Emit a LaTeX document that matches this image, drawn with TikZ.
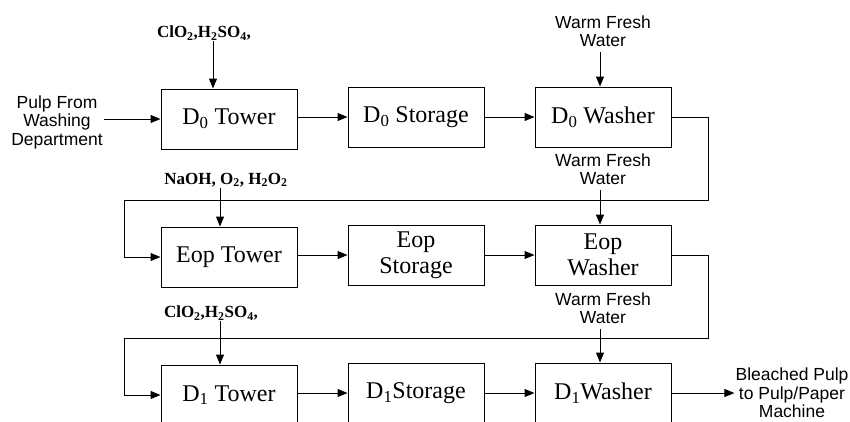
\documentclass[tikz,border=0pt]{standalone}
\usepackage{fontspec}
\setmainfont{Liberation Serif}
\newfontfamily\arialfont{Liberation Sans}
\usetikzlibrary{arrows.meta}

\begin{document}
\begin{tikzpicture}[x=1pt, y=-1pt,
    unit/.style={draw, line width=1pt, minimum width=136pt, minimum height=60pt,
        inner sep=0pt, align=center, font=\fontsize{24}{26}\selectfont},
    water/.style={align=center, inner sep=1pt, font=\arialfont\fontsize{17.5}{18.5}\selectfont},
    chem/.style={inner sep=1pt, font=\fontsize{17}{18}\selectfont\bfseries},
    flow/.style={line width=1pt, -{Triangle[length=10pt, width=8pt]}}]
    \useasboundingbox (0, 0) rectangle (850, 421);
    \clip (0, 0) rectangle (850, 421);

    \node[unit] (d0tower) at (229, 119) {D\textsubscript{0} Tower};
    \node[unit] (d0storage) at (416, 117) {D\textsubscript{0} Storage};
    \node[unit] (d0washer) at (603, 117) {D\textsubscript{0} Washer};

    \node[unit] (eoptower) at (229, 257) {Eop Tower};
    \node[unit] (eopstorage) at (416, 255) {Eop\\Storage};
    \node[unit] (eopwasher) at (603, 255) {Eop\\Washer};

    \node[unit] (d1tower) at (229, 395) {D\textsubscript{1} Tower};
    \node[unit] (d1storage) at (416, 393) {D\textsubscript{1}Storage};
    \node[unit] (d1washer) at (603, 393) {D\textsubscript{1}Washer};

    \node[water] (pulpin) at (57, 122) {Pulp From\\Washing\\Department};
    \node[water] (bleached) at (792, 393) {Bleached Pulp\\to Pulp/Paper\\Machine};
    \node[water] (water1) at (603, 31) {Warm Fresh\\Water};
    \node[water] (water2) at (603, 169) {Warm Fresh\\Water};
    \node[water] (water3) at (603, 308) {Warm Fresh\\Water};

    \node[chem] (clo2a) at (204, 33) {ClO\textsubscript{2},H\textsubscript{2}SO\textsubscript{4},};
    \node[chem] (naoh) at (226, 180) {NaOH, O\textsubscript{2}, H\textsubscript{2}O\textsubscript{2}};
    \node[chem] (clo2b) at (211, 313) {ClO\textsubscript{2},H\textsubscript{2}SO\textsubscript{4},};

    % main line
    \draw[flow] (pulpin.east |- d0tower.west) -- (d0tower.west);
    \draw[flow] (d0tower.east |- d0storage.west) -- (d0storage.west);
    \draw[flow] (d0storage) -- (d0washer);
    \draw[flow] (eoptower.east |- eopstorage.west) -- (eopstorage.west);
    \draw[flow] (eopstorage) -- (eopwasher);
    \draw[flow] (d1tower.east |- d1storage.west) -- (d1storage.west);
    \draw[flow] (d1storage) -- (d1washer);
    \draw[flow] (d1washer) -- (bleached.west |- d1washer.east);

    % washer to next tower
    \coordinate (turn1) at (708, 200);
    \coordinate (back1) at (124, 200);
    \coordinate (turn2) at (708, 338);
    \coordinate (back2) at (124, 338);
    \draw[flow] (d0washer.east) -| (turn1) -- (back1) |- (eoptower.west);
    \draw[flow] (eopwasher.east) -| (turn2) -- (back2) |- (d1tower.west);

    % chemicals and water
    \draw[flow] ([xshift=9pt]clo2a.south) -- ([xshift=9pt]clo2a.south |- d0tower.north);
    \draw[flow] ([xshift=-6pt]naoh.south) -- ([xshift=-6pt]naoh.south |- eoptower.north);
    \draw[flow] ([xshift=9pt]clo2b.south) -- ([xshift=9pt]clo2b.south |- d1tower.north);
    \draw[flow] ([xshift=-3pt, yshift=-4pt]water1.south) -- ([xshift=-3pt]water1.south |- d0washer.north);
    \draw[flow] ([xshift=-3pt, yshift=-4pt]water2.south) -- ([xshift=-3pt]water2.south |- eopwasher.north);
    \draw[flow] ([xshift=-3pt, yshift=-4pt]water3.south) -- ([xshift=-3pt]water3.south |- d1washer.north);
\end{tikzpicture}
\end{document}
